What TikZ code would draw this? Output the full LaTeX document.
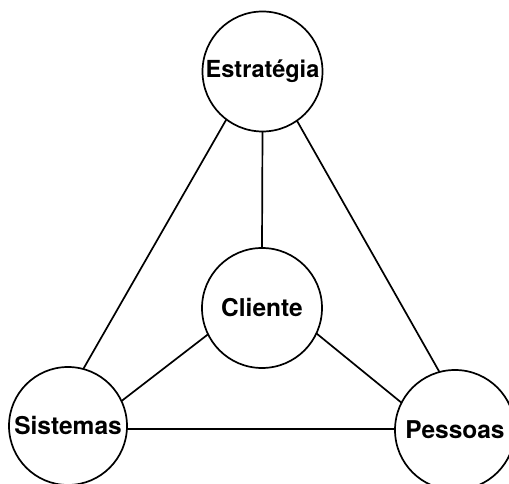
\documentclass[tikz,border=0pt]{standalone}
\usepackage{fontspec}
\setmainfont{TeX Gyre Heros}
\begin{document}
\begin{tikzpicture}[x=1pt,y=1pt,
  ball/.style={circle,draw,line width=1.7pt,inner sep=0pt,outer sep=0pt,
    font=\fontsize{24.5}{29}\selectfont\bfseries},
  link/.style={line width=1.7pt}]
\useasboundingbox (0,0) rectangle (509,484);
% the four circles
\node[ball,minimum size=120pt,font=\fontsize{23.5}{28}\selectfont\bfseries]
  (est) at (262.5,412.5) {Estratégia};
\node[ball,minimum size=120pt] (cli) at (262,176) {Cliente};
\node[ball,minimum size=118pt] (sis) at (68,58) {Sistemas};
\node[ball,minimum size=120pt] (pes) at (455,54) {Pessoas};
% connectors
\draw[link] (est.-127.5) -- (sis.75);
\draw[link] (est.-55.8) -- (pes.105.4);
\draw[link] (est.-90) -- (cli.90);
\draw[link] (cli.206) -- (sis.25.7);
\draw[link] (cli.-25) -- (pes.153.8);
\draw[link] (sis.-3) -- (pes.179);
\end{tikzpicture}
\end{document}
